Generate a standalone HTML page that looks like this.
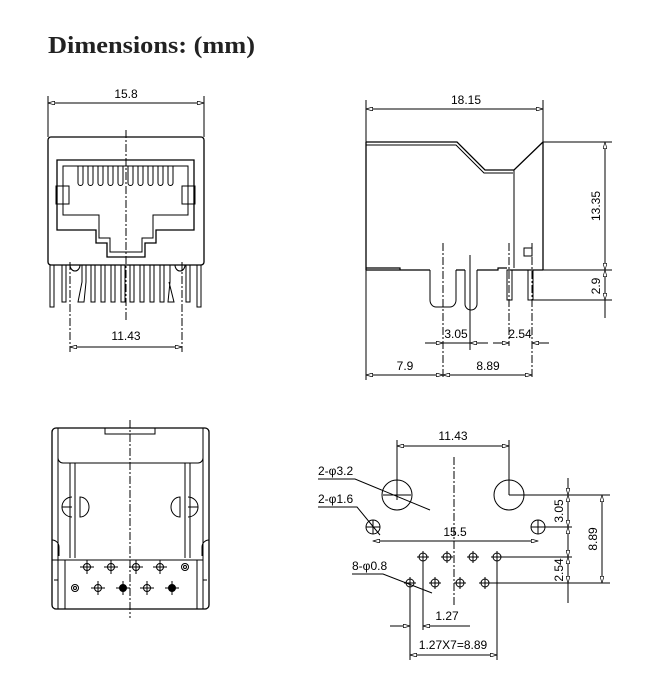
<!DOCTYPE html>
<html><head><meta charset="utf-8"><style>
html,body{margin:0;padding:0;background:#fff}
svg{display:block}
text{font-family:"Liberation Sans",sans-serif;font-size:12px;fill:#000}
</style></head><body>
<svg width="669" height="687" viewBox="0 0 669 687" xmlns="http://www.w3.org/2000/svg">
<defs>
<marker id="a" viewBox="0 0 10 6" refX="10" refY="3" markerWidth="8" markerHeight="4" orient="auto-start-reverse"><path d="M0,0 L10,3 L0,6 Z" fill="#fff" stroke="#000" stroke-width="1"/></marker>
</defs>
<text x="48" y="53" textLength="207" lengthAdjust="spacingAndGlyphs" style="font-family:'Liberation Serif',serif;font-size:24px;font-weight:bold;fill:#222">Dimensions: (mm)</text>

<g stroke="#000" fill="none" stroke-width="1">
<!-- TOP LEFT -->
<line x1="48" y1="96" x2="48" y2="137"/><line x1="204" y1="96" x2="204" y2="137"/>
<line x1="48" y1="103" x2="204" y2="103" marker-start="url(#a)" marker-end="url(#a)"/>
<rect x="48" y="137" width="156" height="128" rx="3" stroke-width="1.3"/>
<path d="M57,160 H194 V230 H156 V243 H145 V257 H107 V243 H96 V230 H57 Z" stroke-width="1.3"/>
<path d="M63,166 H188 V215 H153 V238 H142 V252 H110 V238 H99 V215 H63 Z"/>
<g>
<path d="M78,166 V183 a2.5,2.5 0 0 0 5,0 V166"/><path d="M88,166 V183 a2.5,2.5 0 0 0 5,0 V166"/>
<path d="M98,166 V183 a2.5,2.5 0 0 0 5,0 V166"/><path d="M108,166 V183 a2.5,2.5 0 0 0 5,0 V166"/>
<path d="M118,166 V183 a2.5,2.5 0 0 0 5,0 V166"/><path d="M128,166 V183 a2.5,2.5 0 0 0 5,0 V166"/>
<path d="M138,166 V183 a2.5,2.5 0 0 0 5,0 V166"/><path d="M148,166 V183 a2.5,2.5 0 0 0 5,0 V166"/>
<path d="M158,166 V183 a2.5,2.5 0 0 0 5,0 V166"/><path d="M168,166 V183 a2.5,2.5 0 0 0 5,0 V166"/>
</g>
<rect x="56" y="186" width="13" height="18"/><rect x="182" y="186" width="13" height="18"/>
<path d="M50,265 V307 H54 V265"/><path d="M62,265 V302 H66 V265"/>
<path d="M70,265 a5,6 0 0 0 10,0"/><path d="M82,265 V282 L78,302 H84 L86,282 V265"/>
<path d="M91,265 V302 H95 V265"/><path d="M101,265 V302 H105 V265"/><path d="M111,265 V302 H115 V265"/>
<path d="M121,265 V302 H125 V265"/><path d="M130,265 V302 H134 V265"/><path d="M140,265 V302 H144 V265"/>
<path d="M150,265 V302 H154 V265"/><path d="M160,265 V302 H164 V265"/>
<path d="M170,265 V282 L168,302 H174 L169,282"/><path d="M175,265 a5,6 0 0 0 10,0"/>
<path d="M186,265 V302 H190 V265"/><path d="M197,265 V307 H201 V265"/>
<line x1="126" y1="130" x2="126" y2="320" stroke-dasharray="8,2,2,2"/>
<line x1="70" y1="262" x2="70" y2="352" stroke-dasharray="8,2,2,2"/><line x1="182" y1="262" x2="182" y2="352" stroke-dasharray="8,2,2,2"/>
<line x1="70" y1="347" x2="182" y2="347" marker-start="url(#a)" marker-end="url(#a)"/>

<!-- TOP RIGHT -->
<line x1="366" y1="100" x2="366" y2="380"/><line x1="543" y1="100" x2="543" y2="142"/>
<line x1="366" y1="109" x2="543" y2="109" marker-start="url(#a)" marker-end="url(#a)"/>
<path d="M366,142 H457 L485,170 H514 L543,142" stroke-width="1.3"/>
<path d="M366,145 H456 L484,173 H513" />
<line x1="514" y1="170" x2="514" y2="268"/>
<line x1="543" y1="142" x2="543" y2="270" stroke-width="1.3"/>
<line x1="366" y1="142" x2="366" y2="270" stroke-width="1.3"/>
<path d="M366,270 H400 M366,268 H400 V270 H430 M456,270 H465 M477,270 H498 V268 H507 M508,270 H543" stroke-width="1.2"/>
<path d="M430,270 V300 a6,7 0 0 0 6,7 H450 a6,7 0 0 0 6,-7 V270"/>
<path d="M465,270 V304 a6,6 0 0 0 12,0 V270"/>
<rect x="507" y="270" width="5" height="30"/><rect x="528" y="270" width="5" height="30"/>
<rect x="524" y="248" width="8" height="8"/>
<line x1="543" y1="142" x2="612" y2="142"/><line x1="530" y1="270" x2="612" y2="270"/><line x1="533" y1="300" x2="612" y2="300"/>
<line x1="605" y1="142" x2="605" y2="270" marker-start="url(#a)" marker-end="url(#a)"/>
<line x1="605" y1="270" x2="605" y2="300" marker-start="url(#a)" marker-end="url(#a)"/>
<line x1="605" y1="300" x2="605" y2="318"/>
<line x1="443" y1="243" x2="443" y2="378" stroke-dasharray="8,2,2,2"/>
<line x1="470" y1="255" x2="470" y2="350"/>
<line x1="509" y1="243" x2="509" y2="346" stroke-dasharray="8,2,2,2"/>
<line x1="532" y1="243" x2="532" y2="378" stroke-dasharray="8,2,2,2"/>
<line x1="425" y1="343" x2="443" y2="343" marker-end="url(#a)"/><line x1="488" y1="343" x2="470" y2="343" marker-end="url(#a)"/>
<line x1="493" y1="343" x2="509" y2="343" marker-end="url(#a)"/><line x1="549" y1="343" x2="532" y2="343" marker-end="url(#a)"/>
<line x1="443" y1="343" x2="470" y2="343"/>
<line x1="366" y1="375" x2="443" y2="375" marker-start="url(#a)" marker-end="url(#a)"/>
<line x1="443" y1="375" x2="532" y2="375" marker-start="url(#a)" marker-end="url(#a)"/>

<!-- BOTTOM LEFT -->
<rect x="52" y="428" width="157" height="181" rx="4" stroke-width="1.3"/>
<path d="M58,428 V609 M203,428 V609"/>
<path d="M58,428 V458 a5,5 0 0 0 5,5 H198 a5,5 0 0 0 5,-5 V428"/>
<rect x="105" y="428" width="50" height="6"/>
<path d="M70,463 V558 M75,463 V558 M185,463 V558 M190,463 V558"/>
<path d="M72,497 a10,10 0 0 0 0,20 M72,507 H62"/><path d="M80,497 a9,10 0 0 1 0,20 Z"/>
<path d="M188,497 a10,10 0 0 1 0,20 M188,507 H198"/><path d="M180,497 a9,10 0 0 0 0,20 Z"/>
<path d="M52,540 a7,7 0 0 1 7,7 V556 M209,540 a7,7 0 0 0 -7,7 V556"/>
<path d="M52,560 H203 M65,560 V609 M197,560 V609"/>
<path d="M54,580 H58 M203,580 H207"/>
<line x1="130" y1="420" x2="130" y2="618" stroke-dasharray="8,2,2,2"/>
<g>
<circle cx="87" cy="567" r="3.5"/><circle cx="111" cy="567" r="3.5"/><circle cx="136" cy="567" r="3.5"/><circle cx="160" cy="567" r="3.5"/>
<circle cx="185" cy="567" r="3.5"/><circle cx="185" cy="567" r="1.5"/>
<circle cx="75" cy="588" r="3.5"/><circle cx="75" cy="588" r="1.5"/>
<circle cx="98" cy="588" r="3.5"/><circle cx="123" cy="588" r="3.5" fill="#000"/><circle cx="147" cy="588" r="3.5"/><circle cx="172" cy="588" r="3.5" fill="#000"/>
<path d="M80,567 H94 M87,560 V574 M104,567 H118 M111,560 V574 M129,567 H143 M136,560 V574 M153,567 H167 M160,560 V574"/>
<path d="M91,588 H105 M98,581 V595 M116,588 H130 M123,581 V595 M140,588 H154 M147,581 V595 M165,588 H179 M172,581 V595"/>
</g>

<!-- BOTTOM RIGHT -->
<line x1="397" y1="440" x2="397" y2="495"/><line x1="509" y1="440" x2="509" y2="495"/>
<line x1="397" y1="446" x2="509" y2="446" marker-start="url(#a)" marker-end="url(#a)"/>
<circle cx="397" cy="495" r="15"/><circle cx="509" cy="495" r="15"/>
<circle cx="373" cy="527" r="7"/><circle cx="538" cy="527" r="7"/>
<path d="M383,495 H411 M397,490 V500 M509,495 H610 M373,520 V534 M366,527 H380 M538,520 V534 M531,527 H572"/>
<line x1="373" y1="541" x2="538" y2="541" marker-start="url(#a)" marker-end="url(#a)"/>
<line x1="454" y1="457" x2="454" y2="605" stroke-dasharray="8,2,2,2"/>
<g>
<circle cx="423" cy="557" r="4"/><circle cx="447" cy="557" r="4"/><circle cx="473" cy="557" r="4"/><circle cx="497" cy="557" r="4"/>
<circle cx="410" cy="583" r="4"/><circle cx="435" cy="583" r="4"/><circle cx="460" cy="583" r="4"/><circle cx="485" cy="583" r="4"/>
<path d="M417,557 H429 M423,551 V563 M441,557 H453 M447,551 V563 M467,557 H479 M473,551 V563 M491,557 H572 M497,551 V563"/>
<path d="M404,583 H416 M410,577 V589 M429,583 H441 M435,577 V589 M454,583 H466 M460,577 V589 M479,583 H610 M485,577 V589"/>
</g>
<path d="M318,479 H355 L430,510"/><path d="M318,507 H357 L380,535"/><path d="M352,574 H383 L432,593"/>
<line x1="568" y1="478" x2="568" y2="495" marker-end="url(#a)"/>
<line x1="568" y1="495" x2="568" y2="527" marker-start="url(#a)" marker-end="url(#a)"/>
<line x1="568" y1="527" x2="568" y2="557" marker-start="url(#a)" marker-end="url(#a)"/>
<line x1="568" y1="557" x2="568" y2="583" marker-start="url(#a)" marker-end="url(#a)"/>
<line x1="568" y1="583" x2="568" y2="603"/>
<line x1="602" y1="495" x2="602" y2="583" marker-start="url(#a)" marker-end="url(#a)"/>
<path d="M410,583 V660 M423,557 V630 M497,557 V660"/>
<line x1="390" y1="626" x2="410" y2="626" marker-end="url(#a)"/><line x1="470" y1="626" x2="423" y2="626" marker-end="url(#a)"/>
<line x1="410" y1="655" x2="497" y2="655" marker-start="url(#a)" marker-end="url(#a)"/>
</g>

<text x="126" y="98" text-anchor="middle">15.8</text>
<text x="126" y="340" text-anchor="middle">11.43</text>
<text x="466" y="104" text-anchor="middle">18.15</text>
<text transform="translate(600,206) rotate(-90)" text-anchor="middle">13.35</text>
<text transform="translate(600,286) rotate(-90)" text-anchor="middle">2.9</text>
<text x="456" y="338" text-anchor="middle">3.05</text>
<text x="520" y="338" text-anchor="middle">2.54</text>
<text x="405" y="370" text-anchor="middle">7.9</text>
<text x="488" y="370" text-anchor="middle">8.89</text>
<text x="453" y="440" text-anchor="middle">11.43</text>
<text x="318" y="475">2-φ3.2</text>
<text x="318" y="503">2-φ1.6</text>
<text x="455" y="536" text-anchor="middle">15.5</text>
<text x="352" y="570">8-φ0.8</text>
<text transform="translate(563,511) rotate(-90)" text-anchor="middle">3.05</text>
<text transform="translate(563,570) rotate(-90)" text-anchor="middle">2.54</text>
<text transform="translate(597,539) rotate(-90)" text-anchor="middle">8.89</text>
<text x="447" y="620" text-anchor="middle">1.27</text>
<text x="453" y="649" text-anchor="middle">1.27X7=8.89</text>
</svg>
</body></html>
